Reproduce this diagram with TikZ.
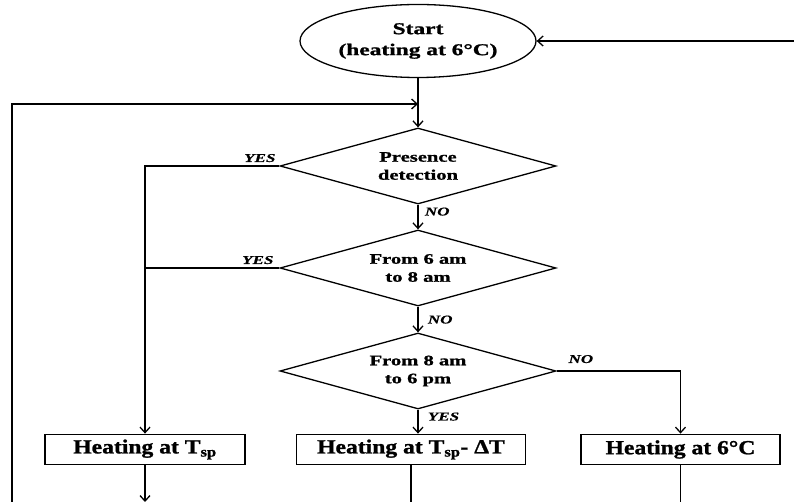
\documentclass[tikz,border=0pt]{standalone}
\usepackage{fontspec}
\setmainfont{Liberation Serif}[FakeStretch=1.18,BoldFeatures={FakeBold=1.2}]
\newfontfamily\wideserif{Liberation Serif}[FakeStretch=1.42,BoldFeatures={FakeBold=1.2},BoldItalicFeatures={FakeBold=0.6}]
\usetikzlibrary{shapes.geometric,arrows.meta}
\begin{document}
\begin{tikzpicture}[x=1pt,y=-1pt,line width=1.8pt,
arr/.style={-{Straight Barb[length=5.5pt,width=10pt,line width=1.3pt]}},
decision/.style={diamond,draw,line width=1.3pt,aspect=3.6,minimum width=276pt,minimum height=76pt,inner sep=0pt,align=center,font=\wideserif\fontsize{14.5}{18}\selectfont\bfseries},
action/.style={rectangle,draw,minimum height=30pt,inner sep=0pt,font=\fontsize{20}{24}\selectfont\bfseries},
answer/.style={font=\wideserif\fontsize{12}{14}\selectfont\bfseries\itshape,inner sep=1pt}]
\useasboundingbox(0,0)rectangle(794,502);
\node[ellipse,draw,line width=1.3pt,minimum width=236pt,minimum height=73pt,inner sep=0pt,align=center,font=\wideserif\fontsize{16.5}{21}\selectfont\bfseries](start)at(418,41){Start\\(heating at 6°C)};
\node[decision](pres)at(418,166){Presence\\detection};
\node[decision](morn)at(418,268){From 6 am\\to 8 am};
\node[decision](day)at(418,371){From 8 am\\to 6 pm};
\node[action,minimum width=200pt](full)at(145,449.5){Heating at T\textsubscript{sp}};
\node[action,minimum width=229pt](red)at(411,449.5){Heating at T\textsubscript{sp}- ΔT};
\node[action,minimum width=199pt](low)at(680.5,449.5){Heating at 6°C};
\coordinate(join)at(418,104);
\coordinate(back)at(12,502);
\coordinate(entry)at(794,41);
% loop back to the start
\draw[arr](entry)--(start.east);
\draw(start.south)--(join);
\draw[arr](back)|-(join);
\draw[arr](join)--(pres.north);
% decisions
\draw[arr](pres.west)node[answer,anchor=south east,xshift=-2pt,yshift=2pt](yes1){YES}-|(full.north);
\draw(morn.west)node[answer,anchor=south east,xshift=-4pt,yshift=2pt](yes2){YES}--(morn.west-|full.north);
\draw[arr](pres.south)node[answer,anchor=north west,xshift=5pt,yshift=-1pt](no1){NO}--(morn.north);
\draw[arr](morn.south)node[answer,anchor=north west,xshift=8pt,yshift=-7pt](no2){NO}--(day.north);
\draw[arr](day.east)node[answer,anchor=south west,xshift=10pt,yshift=6pt](no3){NO}-|(low.north);
\draw[arr](day.south)node[answer,anchor=north west,xshift=8pt,yshift=-1pt](yes3){YES}--(day.south|-red.north);
% outputs
\draw[arr](full.south)--(full.south|-back);
\draw(red.south)--(red.south|-back);
\draw(low.south)--(low.south|-back);
\end{tikzpicture}
\end{document}
